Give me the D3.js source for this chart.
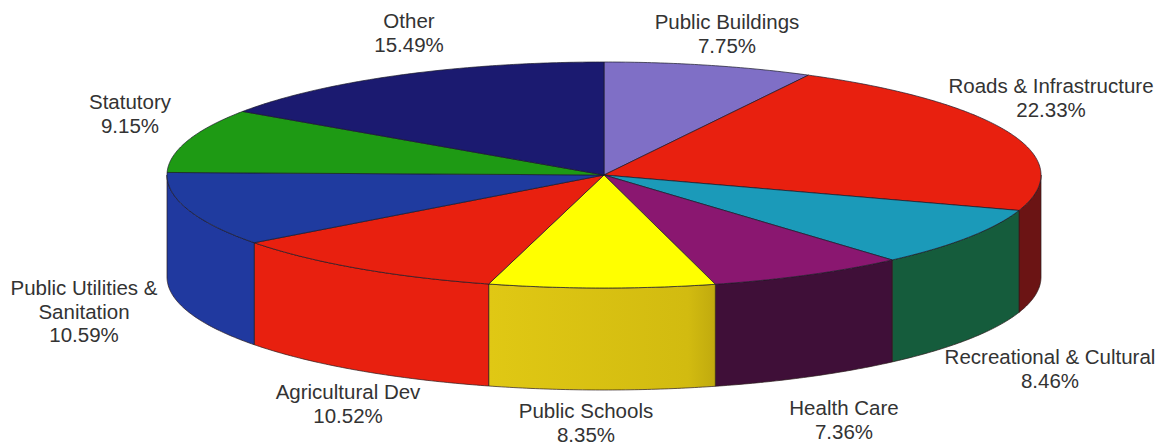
<!DOCTYPE html>
<html>
<head>
<meta charset="utf-8">
<script src="https://cdn.jsdelivr.net/npm/d3@7"></script>
<style>
    html, body { margin: 0; padding: 0; background: #fff; }
    text { font-family: "Liberation Sans", Arial, sans-serif; font-size: 20.5px; fill: #333; text-anchor: middle; }
</style>
</head>
<body>
<svg id="chart" width="1161" height="446"></svg>
<script>
// slices run clockwise from 12 o'clock
const categories = ['Public Buildings', 'Roads & Infrastructure', 'Recreational & Cultural', 'Health Care',
    'Public Schools', 'Agricultural Dev', 'Public Utilities & Sanitation', 'Statutory', 'Other'];
const shares = [7.75, 22.33, 8.46, 7.36, 8.35, 10.52, 10.59, 9.15, 15.49];

const topColors = ['#7f6fc6', '#e8200f', '#1b9ab9', '#8a1770', '#ffff00', '#e8200f', '#1f3b9f', '#1e9a14', '#1b1a70'];
const sideColors = ['#4a4080', '#6b1414', '#155c3c', '#3f0f38', 'url(#schoolWall)', '#e8200f', '#20399f', '#125c0c', '#100f44'];

// wrapped label lines and where the label block sits (centre x, first baseline)
const labelLines = [['Public Buildings'], ['Roads & Infrastructure'], ['Recreational & Cultural'], ['Health Care'],
    ['Public Schools'], ['Agricultural Dev'], ['Public Utilities &', 'Sanitation'], ['Statutory'], ['Other']];
const labelX = [727, 1051, 1050, 844, 586, 348, 84, 130, 409];
const labelY = [29, 93, 364, 415, 418, 399, 295, 109, 28];

const cx = 604, cy = 175, rx = 437, ry = 113, depth = 102;
const lineHeight = 23.5;

const x = d3.scaleLinear().domain([-1, 1]).range([cx - rx, cx + rx]);
const y = d3.scaleLinear().domain([-1, 1]).range([cy - ry, cy + ry]);

const pie = d3.pie().sort(null).value(d => d);
const slices = pie(shares);

const svg = d3.select('#chart');
const line = d3.line();

// the yellow wall is a bit darker towards its right end
let grad = svg.append('defs').append('linearGradient').attr('id', 'schoolWall');
grad.append('stop').attr('offset', '0%').attr('stop-color', '#e0c814');
grad.append('stop').attr('offset', '88%').attr('stop-color', '#d2bb10');
grad.append('stop').attr('offset', '100%').attr('stop-color', '#c0aa0e');

/** Points along the rim between two angles, lifted down by drop pixels. */
function rim(a0, a1, drop) {
    let n = Math.max(2, Math.ceil((a1 - a0) / 0.01));
    return d3.range(n + 1).map(i => {
        let a = a0 + (a1 - a0) * i / n;
        return [x(Math.sin(a)), y(-Math.cos(a)) + drop];
    });
}

// only the front half of the wall can be seen
let walls = slices.map((s, i) => ({
    i: i,
    a0: Math.max(s.startAngle, Math.PI / 2),
    a1: Math.min(s.endAngle, Math.PI * 1.5)
})).filter(d => d.a1 > d.a0);

svg.append('g').selectAll('path').data(walls).join('path')
    .attr('d', d => line(rim(d.a0, d.a1, 0).concat(rim(d.a0, d.a1, depth).reverse())) + 'Z')
    .attr('fill', d => sideColors[d.i])
    .attr('stroke', '#2a1a1a')
    .attr('stroke-width', 0.7);

svg.append('g').selectAll('path').data(slices).join('path')
    .attr('d', d => line([[cx, cy]].concat(rim(d.startAngle, d.endAngle, 0))) + 'Z')
    .attr('fill', (d, i) => topColors[i])
    .attr('stroke', '#1a1a2a')
    .attr('stroke-width', 0.7)
    .attr('stroke-linejoin', 'round');

let labels = svg.append('g').selectAll('text').data(categories).join('text')
    .attr('y', (d, i) => labelY[i]);

labels.each(function (d, i) {
    let lines = labelLines[i].concat([shares[i].toFixed(2) + '%']);
    d3.select(this).selectAll('tspan').data(lines).join('tspan')
        .attr('x', labelX[i])
        .attr('dy', (t, j) => j ? lineHeight : 0)
        .text(t => t);
});
</script>
</body>
</html>
